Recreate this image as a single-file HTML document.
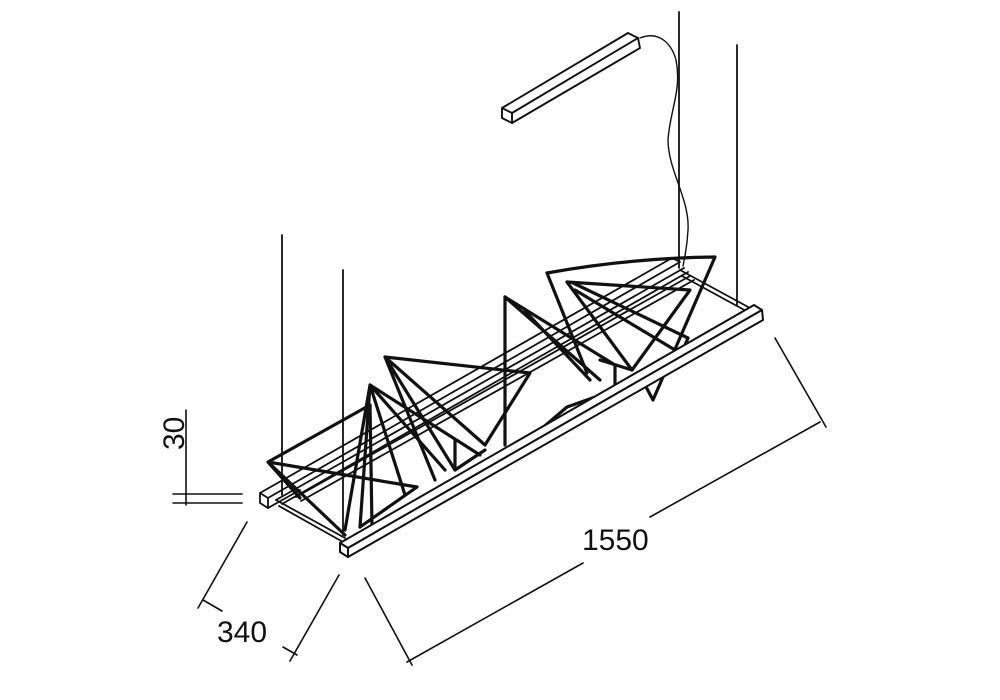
<!DOCTYPE html>
<html><head><meta charset="utf-8"><style>
html,body{margin:0;padding:0;background:#fff;}
svg{display:block;}
text{font-family:"Liberation Sans",sans-serif;fill:#111;}
</style></head><body>
<svg width="1000" height="700" viewBox="0 0 1000 700" xmlns="http://www.w3.org/2000/svg">
<g stroke="#111" fill="none" stroke-linecap="round" stroke-linejoin="round">
<g stroke-width="1.8">
<line x1="282" y1="235" x2="282" y2="495"/>
<line x1="343" y1="270" x2="343" y2="535"/>
<line x1="679" y1="12" x2="679" y2="268"/>
<line x1="737" y1="45" x2="737" y2="305"/>
</g>
<g stroke-width="1.9">
<path d="M502,108 L628,33 L638,38 L512,113 Z"/>
<path d="M502,108 L502,118 L512,123 L512,113"/>
<path d="M512,123 L640,48 L638,38"/>
<path d="M640,38 C660,30 672,45 676,60 C682,90 670,110 668,140 C668,170 690,200 688,230 C687,250 684,260 683,266" stroke-width="1.4"/>
</g>
<g stroke-width="1.8">
<path d="M260,493 L672,258 L680,262 L268,498 Z"/>
<path d="M260,493 L260,503 L268,508 L268,498"/>
<path d="M268,508 L300,490"/>
<line x1="276" y1="500" x2="684" y2="268"/>
<line x1="282" y1="504" x2="688" y2="272"/>
<line x1="296" y1="497" x2="690" y2="276"/>
<line x1="301" y1="501" x2="694" y2="280"/>
<line x1="276" y1="500" x2="345" y2="538"/>
<line x1="279" y1="506" x2="343" y2="542"/>
<line x1="680" y1="270" x2="750" y2="308"/>
<line x1="682" y1="276" x2="748" y2="312"/>
</g>
<g stroke-width="3.2">
<path d="M268,462 L370,405 M268,462 L417,487 M268,462 L345,535 M268,462 L300,498"/>
<path d="M370,405 L372,527 M417,487 L360,527"/>
<path d="M370,385 L345,530 M370,385 L360,527 M370,385 L445,470 M370,385 L405,495 M370,385 L480,455"/>
<path d="M385,357 L530,373 L485,445 M385,357 L485,445 M385,357 L435,480 M385,357 L455,470"/>
<path d="M455,440 L455,470 L485,450"/>
<path d="M505,297 L505,445 M505,297 L615,365 L615,390 L567,407 L540,430"/>
<path d="M505,297 L600,380 M525,311 L590,380"/>
<path d="M547,273 Q630,258 715,257 L653,400 L645,385"/>
<path d="M547,273 L587,373 M567,282 L632,370 L690,290 L567,282"/>
<path d="M573,283 L688,338 L680,357 M575,290 L675,350"/>
<path d="M600,360 L632,370"/>
</g>
<g stroke-width="2" fill="#fff">
<path d="M340,543 L754,305 L762,310 L348,548 Z"/>
<path d="M340,543 L340,552 L348,557 L348,548 Z"/>
<path d="M348,557 L763,320 L762,310 L348,548 Z"/>
</g>
<g stroke-width="1.6">
<line x1="186" y1="410" x2="186" y2="505"/>
<line x1="173" y1="494" x2="242" y2="494"/>
<line x1="173" y1="503" x2="242" y2="503"/>
<line x1="247" y1="522" x2="198" y2="608"/>
<line x1="339" y1="575" x2="290" y2="661"/>
<line x1="203" y1="600" x2="222" y2="611"/>
<line x1="283" y1="647" x2="297" y2="655"/>
<line x1="365" y1="578" x2="412" y2="665"/>
<line x1="775" y1="338" x2="826" y2="427"/>
<line x1="407" y1="662" x2="583" y2="563"/>
<line x1="650" y1="517" x2="820" y2="422"/>
</g>
</g>
<text x="582" y="550" font-size="30">1550</text>
<text x="217" y="642" font-size="30">340</text>
<text transform="translate(184,450) rotate(-90)" font-size="30">30</text>
</svg>
</body></html>
